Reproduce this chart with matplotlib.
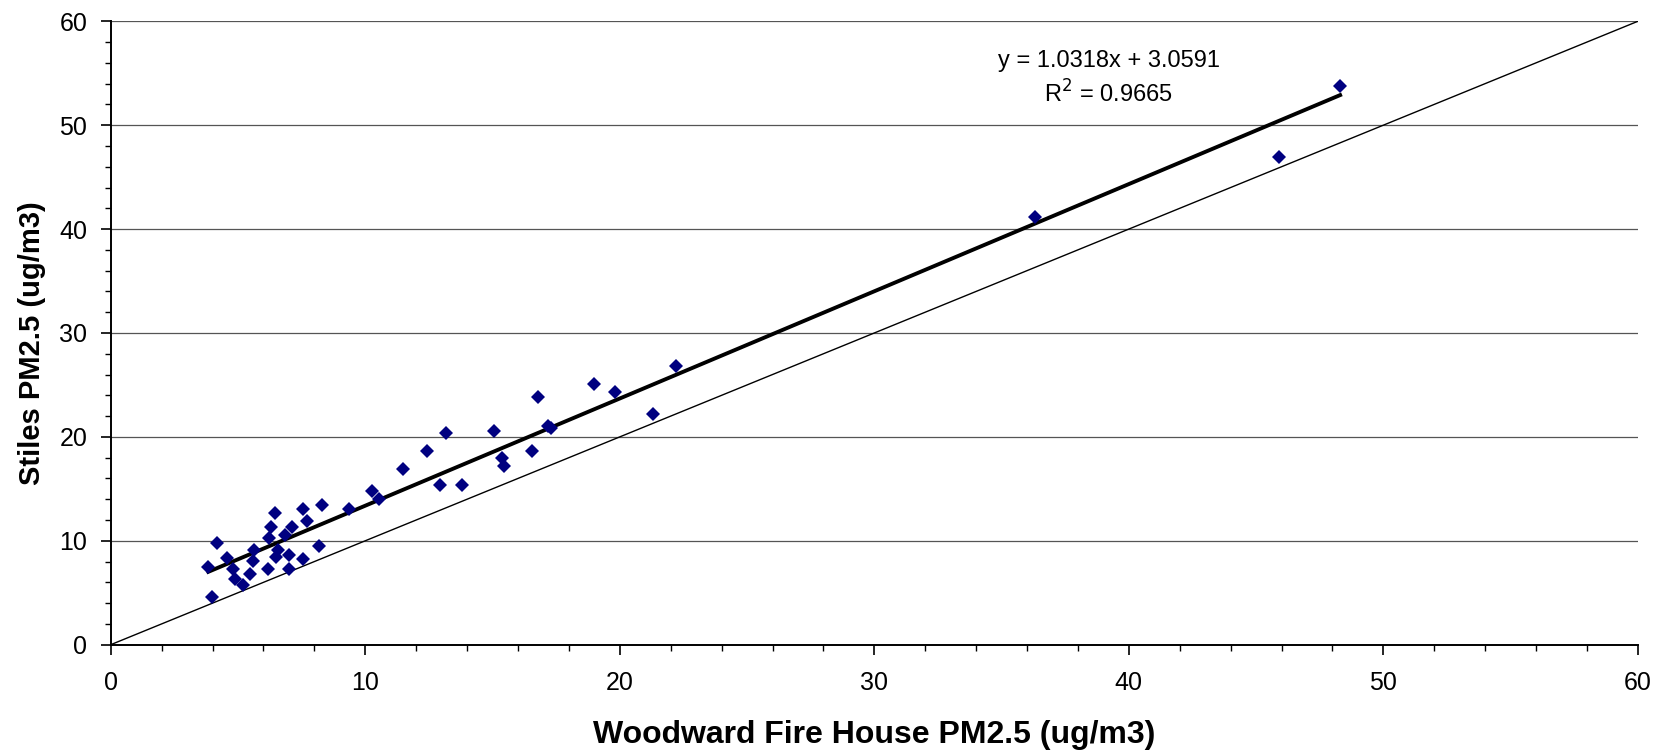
import matplotlib
matplotlib.use("Agg")
import matplotlib.pyplot as plt
import numpy as np
from matplotlib.ticker import MultipleLocator

plt.rcParams['font.family'] = ['Liberation Sans', 'DejaVu Sans']

woodward = [3.83, 3.99, 4.16, 4.55, 4.79, 4.88, 5.18, 5.47, 5.57, 5.64,
            6.19, 6.22, 6.29, 6.45, 6.48, 6.58, 6.84, 7.00, 7.00, 7.11,
            7.56, 7.56, 7.72, 8.19, 8.29, 9.37, 10.25, 10.55, 11.49, 12.44,
            12.95, 13.16, 13.81, 15.06, 15.38, 15.45, 16.56, 16.80, 17.19, 17.30,
            19.00, 19.81, 21.29, 22.20, 36.30, 45.90, 48.30]
stiles = [7.51, 4.62, 9.76, 8.31, 7.26, 6.29, 5.75, 6.80, 8.08, 9.11,
          7.26, 10.30, 11.30, 12.65, 8.41, 9.11, 10.56, 8.63, 7.29, 11.30,
          13.06, 8.25, 11.93, 9.50, 13.45, 13.06, 14.82, 13.99, 16.91, 18.67,
          15.37, 20.40, 15.37, 20.60, 17.94, 17.23, 18.64, 23.87, 21.05, 20.85,
          25.06, 24.29, 22.17, 26.82, 41.15, 46.95, 53.80]

slope = 1.0318
intercept = 3.0591
r_squared = 0.9665

fig = plt.figure(figsize=(16.71, 7.54), dpi=100)
ax = fig.add_axes([0.0663, 0.1450, 0.9139, 0.8268])

ax.set_xlim(0, 60)
ax.set_ylim(0, 60)

for yv in range(10, 61, 10):
    ax.axhline(yv, color='#555555', lw=0.9, zorder=1)

ax.plot([0, 60], [0, 60], color='black', lw=1.0, zorder=2)

xf = np.array([min(woodward), max(woodward)])
ax.plot(xf, slope * xf + intercept, color='black', lw=2.8, zorder=3)

ax.plot(woodward, stiles, linestyle='none', marker='D', ms=7.3,
        color='#000080', markeredgewidth=0, zorder=4)

ax.text(39.2, 56.2, f"y = {slope}x + {intercept}", ha='center', va='center', fontsize=17)
ax.text(39.2, 53.0, f"R$^2$ = {r_squared}", ha='center', va='center', fontsize=17)

ax.xaxis.set_major_locator(MultipleLocator(10))
ax.xaxis.set_minor_locator(MultipleLocator(2))
ax.yaxis.set_major_locator(MultipleLocator(10))
ax.yaxis.set_minor_locator(MultipleLocator(2))
ax.tick_params(which='major', direction='out', length=7, width=1.2, labelsize=18, pad=10)
ax.tick_params(which='minor', direction='out', length=4.5, width=1.0)
ax.tick_params(axis='x', which='major', pad=12)

for s in ['top', 'right']:
    ax.spines[s].set_visible(False)
for s in ['left', 'bottom']:
    ax.spines[s].set_linewidth(1.4)

ax.set_xlabel("Woodward Fire House PM2.5 (ug/m3)", fontsize=23, fontweight='bold', va='center')
ax.set_ylabel("Stiles PM2.5 (ug/m3)", fontsize=21, fontweight='bold', va='center')
ax.xaxis.set_label_coords(0.50, -0.145)
ax.yaxis.set_label_coords(-0.0516, 0.484)

fig.savefig("out.png", dpi=100)
